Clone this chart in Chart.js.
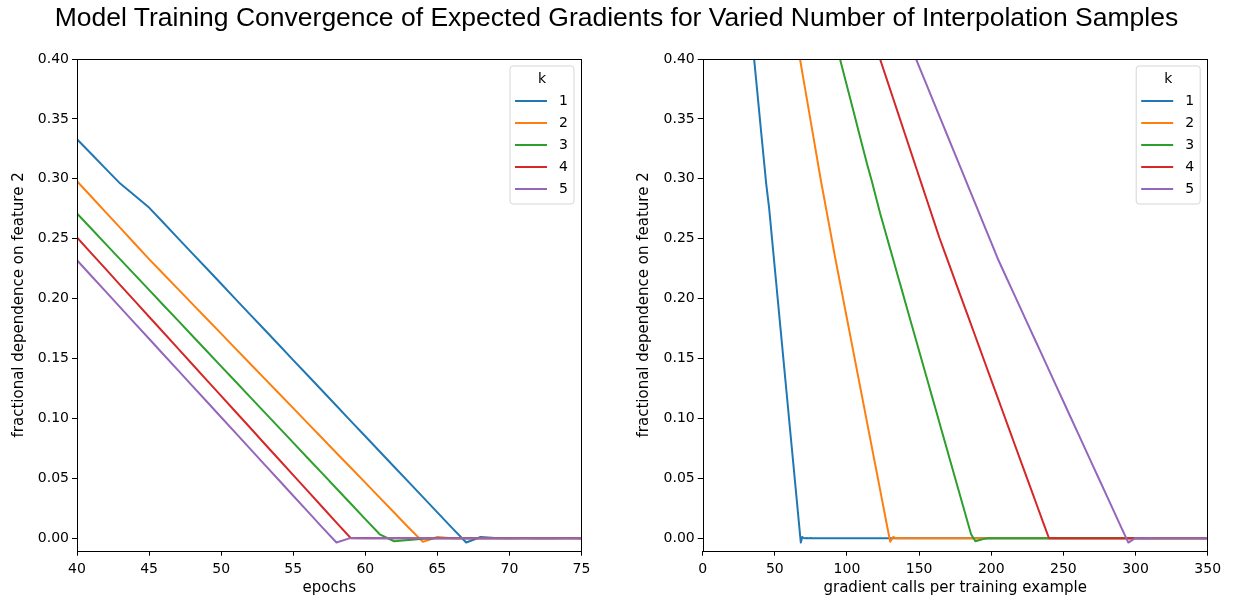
<!DOCTYPE html>
<html>
<head>
<meta charset="utf-8">
<title>Model Training Convergence</title>
<script src="https://cdn.jsdelivr.net/npm/chart.js@4/dist/chart.umd.min.js"></script>
<style>
  body { margin: 0; background: #fff; }
  #wrap { position: relative; width: 1233px; height: 600px; }
  #title { position: absolute; left: 0; top: 0; width: 1233px; text-align: center;
           font: 26.5px "Liberation Sans", Arial, sans-serif; line-height: 34px; color: #000; }
  #left { position: absolute; left: 0; top: 0; }
  #right { position: absolute; left: 616px; top: 0; }
</style>
</head>
<body>
<div id="wrap">
  <canvas id="left" width="616" height="600"></canvas>
  <canvas id="right" width="617" height="600"></canvas>
  <div id="title">Model Training Convergence of Expected Gradients for Varied Number of Interpolation Samples</div>
</div>
<script>
// Epochs logged for every run
const epochs = [28, 29, 30, 31, 32, 33, 34, 35, 36, 37, 38, 39,
                40, 41, 42, 43, 44, 45, 46, 47, 48, 49, 50, 51,
                52, 53, 54, 55, 56, 57, 58, 59, 60, 61, 62, 63,
                64, 65, 66, 67, 68, 69, 70, 71, 72, 73, 74, 75];

// Number of interpolation samples per run
const kValues = [1, 2, 3, 4, 5];

// Fractional dependence on feature 2, one list per k
const depK1 = [0.4830, 0.4705, 0.4580, 0.4455, 0.4330, 0.4205, 0.4080, 0.3955, 0.3830, 0.3705, 0.3580, 0.3455,
               0.3330, 0.3207, 0.3083, 0.2960, 0.2860, 0.2760, 0.2633, 0.2505, 0.2378, 0.2251, 0.2124, 0.1996,
               0.1869, 0.1742, 0.1615, 0.1487, 0.1360, 0.1233, 0.1106, 0.0978, 0.0851, 0.0724, 0.0597, 0.0470,
               0.0343, 0.0216, 0.0089, -0.0036, 0.0010, 0.0002, 0, 0.0001, 0, 0, 0.0001, 0];
const depK2 = [0.4660, 0.4520, 0.4380, 0.4240, 0.4100, 0.3960, 0.3820, 0.3680, 0.3540, 0.3400, 0.3260, 0.3120,
               0.2980, 0.2850, 0.2720, 0.2590, 0.2460, 0.2330, 0.2205, 0.2081, 0.1956, 0.1832, 0.1708, 0.1583,
               0.1459, 0.1334, 0.1210, 0.1086, 0.0961, 0.0837, 0.0712, 0.0588, 0.0464, 0.0339, 0.0215, 0.0090,
               -0.0030, 0.0010, 0, 0.0002, 0, 0, 0, 0, 0, 0, 0, 0];
const depK3 = [0.4370, 0.4240, 0.4100, 0.3960, 0.3820, 0.3680, 0.3540, 0.3400, 0.3260, 0.3120, 0.2990, 0.2850,
               0.2710, 0.2583, 0.2455, 0.2328, 0.2200, 0.2073, 0.1945, 0.1818, 0.1690, 0.1563, 0.1435, 0.1308,
               0.1180, 0.1053, 0.0925, 0.0798, 0.0670, 0.0543, 0.0415, 0.0288, 0.0160, 0.0033, -0.0025, -0.0015,
               -0.0005, 0, 0, 0, 0, 0, 0, 0, 0, 0, 0, 0];
const depK4 = [0.4250, 0.4105, 0.3960, 0.3815, 0.3670, 0.3525, 0.3380, 0.3235, 0.3090, 0.2945, 0.2800, 0.2655,
               0.2510, 0.2378, 0.2246, 0.2113, 0.1981, 0.1849, 0.1717, 0.1585, 0.1452, 0.1320, 0.1188, 0.1056,
               0.0924, 0.0791, 0.0659, 0.0527, 0.0395, 0.0263, 0.0130, 0.0000, 0.0003, 0, 0, 0,
               0, 0, 0, 0, 0, 0, 0, 0, 0, 0, 0, 0];
const depK5 = [0.4084, 0.3937, 0.3790, 0.3643, 0.3496, 0.3349, 0.3202, 0.3055, 0.2908, 0.2761, 0.2614, 0.2467,
               0.2320, 0.2189, 0.2058, 0.1927, 0.1796, 0.1665, 0.1534, 0.1403, 0.1272, 0.1141, 0.1010, 0.0879,
               0.0748, 0.0617, 0.0486, 0.0355, 0.0224, 0.0093, -0.0036, 0.0003, 0, 0.0002, 0, 0,
               0, 0, 0, 0, 0, 0, 0, 0, 0, 0, 0, 0];

// Every run stays at this value until the last gradient call shown
const lastCalls = 350;
const settledDep = 0;

const runs = [depK1, depK2, depK3, depK4, depK5];
const colours = ['#1f77b4', '#ff7f0e', '#2ca02c', '#d62728', '#9467bd'];

Chart.defaults.font.family = '"DejaVu Sans", sans-serif';
Chart.defaults.font.size = 14;
Chart.defaults.color = '#000';

// Axes frame plus a matplotlib style legend with a "k" title
var frameAndLegend = {
    id: 'frameAndLegend',
    afterDatasetsDraw(chart) {
        const ctx = chart.ctx;
        const area = chart.chartArea;
        ctx.save();

        // Box round the plot
        ctx.strokeStyle = '#000';
        ctx.lineWidth = 1;
        ctx.strokeRect(Math.round(area.left) + 0.5, Math.round(area.top) + 0.5,
                       Math.round(area.width) - 1, Math.round(area.height));

        // Legend
        const w = 64, h = 138;
        const x = area.right - 7.5 - w;
        const y = area.top + 7;
        ctx.beginPath();
        ctx.roundRect(x, y, w, h, 3);
        ctx.fillStyle = 'rgba(255,255,255,0.8)';
        ctx.fill();
        ctx.strokeStyle = 'rgba(204,204,204,0.8)';
        ctx.stroke();

        ctx.fillStyle = '#000';
        ctx.font = '14px "DejaVu Sans"';
        ctx.textBaseline = 'middle';
        ctx.textAlign = 'center';
        ctx.fillText('k', x + w / 2, y + 13);
        ctx.textAlign = 'left';
        chart.data.datasets.forEach((ds, i) => {
            const ly = y + 35 + i * 22;
            ctx.strokeStyle = ds.borderColor;
            ctx.lineWidth = 2;
            ctx.beginPath();
            ctx.moveTo(x + 5, ly);
            ctx.lineTo(x + 37, ly);
            ctx.stroke();
            ctx.fillText(ds.label, x + 49, ly);
        });
        ctx.restore();
    }
};

// Build one panel
var makeChart = (id, datasets, opts) => {
    return new Chart(document.getElementById(id), {
        type: 'line',
        data: { datasets: datasets },
        options: {
            responsive: false,
            animation: false,
            parsing: false,
            layout: { padding: { left: 0, right: opts.padRight, top: 59, bottom: 0 } },
            plugins: { legend: { display: false }, tooltip: { enabled: false } },
            scales: {
                x: {
                    type: 'linear',
                    min: opts.xMin,
                    max: opts.xMax,
                    grid: { drawOnChartArea: false, drawTicks: true, tickLength: 5, color: '#000' },
                    border: { display: false },
                    ticks: { stepSize: opts.xStep, autoSkip: false, maxRotation: 0, padding: 5,
                             includeBounds: false },
                    title: { display: true, text: opts.xTitle, font: { size: 15 },
                             padding: { top: 0, bottom: 3 } },
                    afterFit: (scale) => { scale.height = 49.3; }
                },
                y: {
                    type: 'linear',
                    min: -0.0104,
                    max: 0.40,
                    grid: { drawOnChartArea: false, drawTicks: true, tickLength: 5, color: '#000' },
                    border: { display: false },
                    ticks: { stepSize: 0.05, includeBounds: false, padding: 3,
                             callback: (v) => v.toFixed(2) },
                    title: { display: true, text: 'fractional dependence on feature 2', font: { size: 15 },
                             padding: { top: opts.yTitlePad, bottom: 0 } },
                    afterFit: (scale) => { scale.width = opts.yWidth; }
                }
            }
        },
        plugins: [frameAndLegend]
    });
};

// Epoch panel
var epochSets = runs.map((dep, i) => ({
    label: String(kValues[i]),
    data: epochs.map((e, j) => ({ x: e, y: dep[j] })),
    borderColor: colours[i],
    borderWidth: 2,
    borderJoinStyle: 'round',
    pointRadius: 0,
    fill: false,
    tension: 0,
    order: 4 - i
}));

makeChart('left', epochSets, {
    xMin: 40, xMax: 75, xStep: 5, xTitle: 'epochs',
    yWidth: 77, yTitlePad: 10.5, padRight: 34.5
});

// Gradient calls panel: epoch e of run k has used (e + 1) * k calls
var callSets = runs.map((dep, i) => {
    const k = kValues[i];
    const pts = epochs.map((e, j) => ({ x: (e + 1) * k, y: dep[j] }));
    pts.push({ x: lastCalls, y: settledDep });
    return {
        label: String(k),
        data: pts,
        borderColor: colours[i],
        borderWidth: 2,
        borderJoinStyle: 'round',
        pointRadius: 0,
        fill: false,
        tension: 0,
        order: 4 - i
    };
});

makeChart('right', callSets, {
    xMin: 0, xMax: 350, xStep: 50, xTitle: 'gradient calls per training example',
    yWidth: 86.7, yTitlePad: 19.5, padRight: 25.3
});
</script>
</body>
</html>
